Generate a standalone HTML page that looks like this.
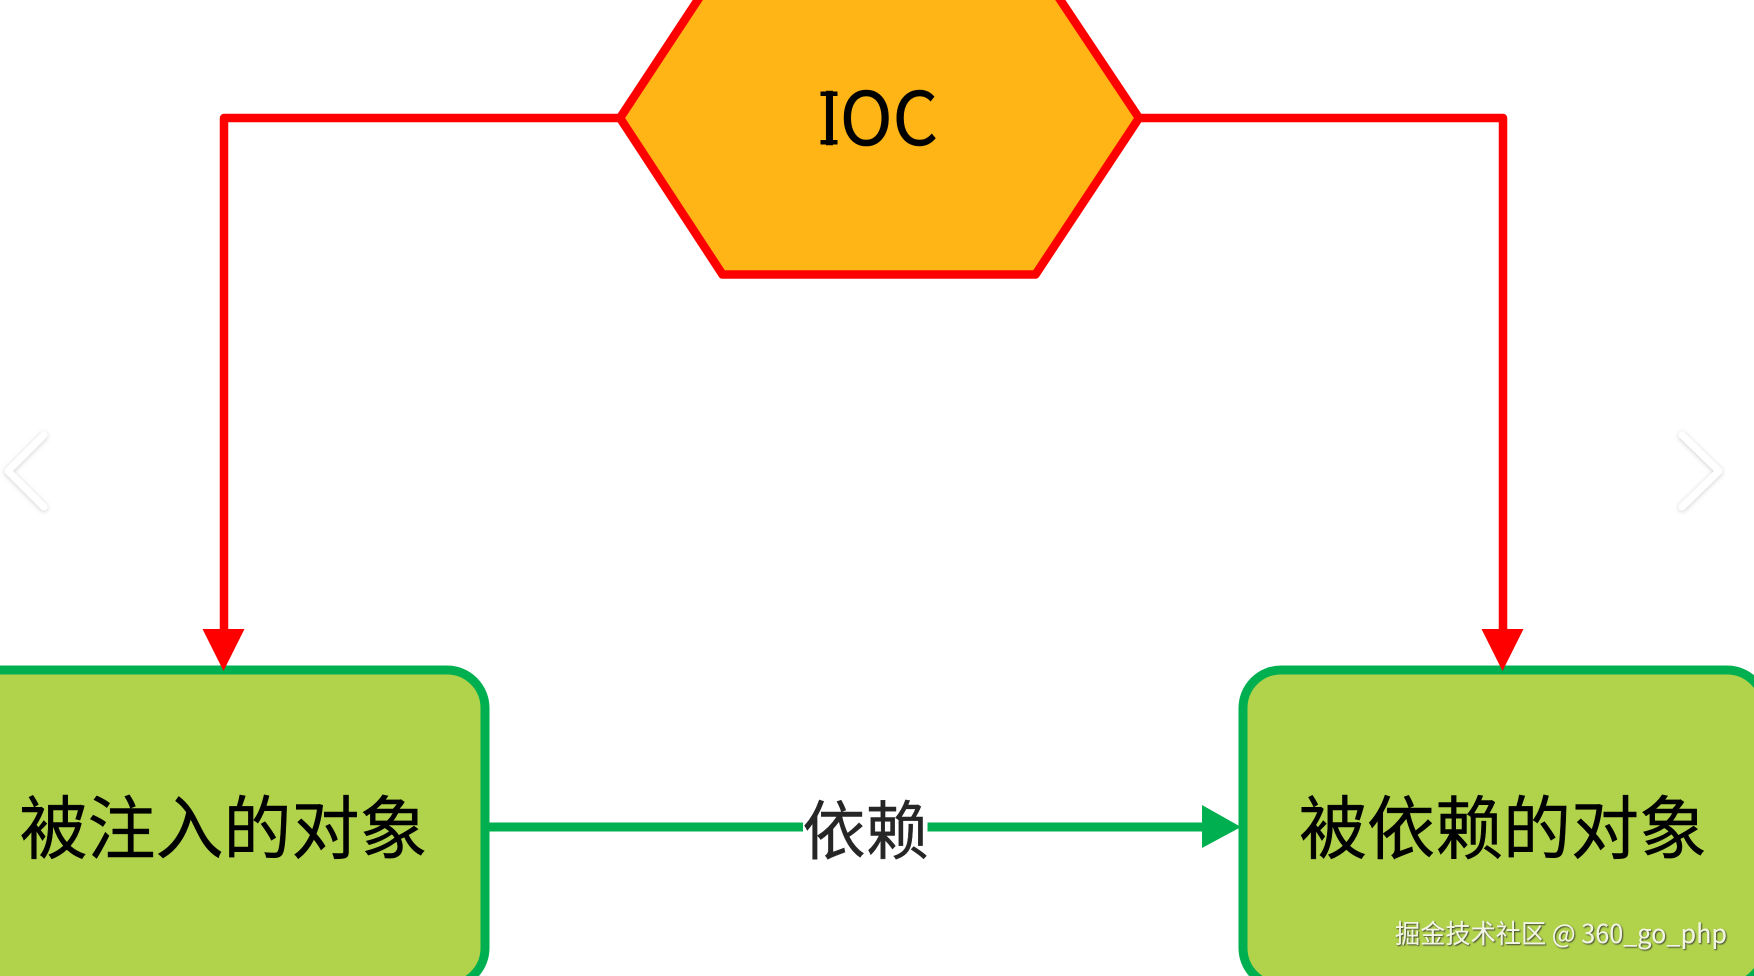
<!DOCTYPE html>
<html lang="zh">
<head>
<meta charset="utf-8">
<title>IOC</title>
<style>
html,body{margin:0;padding:0;background:#fff;width:1754px;height:976px;overflow:hidden}
svg{display:block}
text{font-family:"Liberation Sans","Noto Sans CJK SC",sans-serif}
</style>
</head>
<body>
<svg width="1754" height="976" viewBox="0 0 1754 976" xmlns="http://www.w3.org/2000/svg">
<defs>
<filter id="s" x="-50%" y="-50%" width="200%" height="200%"><feDropShadow dx="0" dy="1" stdDeviation="2.500" flood-color="#000" flood-opacity=".2"/></filter>
<filter id="t" x="-5%" y="-20%" width="110%" height="140%"><feDropShadow dx="1" dy="1" stdDeviation=".7" flood-color="#333" flood-opacity=".9"/></filter>
</defs>
<rect width="1754" height="976" fill="#fff"/>

<!-- red connectors -->
<path d="M620 118H224V632M1138.500 118H1503V632" fill="none" stroke="#f00" stroke-width="8.500" stroke-linejoin="round"/>

<!-- hexagon -->
<polygon points="620,118 722.500,274.500 1035.500,274.500 1139,118 1051,-14 707,-14" fill="#FFB515" stroke="#f00" stroke-width="8.500" stroke-linejoin="round"/>
<text x="878.500" y="145" font-size="74" text-anchor="middle" textLength="119" lengthAdjust="spacingAndGlyphs" fill="#000" stroke="#000" stroke-width=".5" style='font-family:"Noto Sans CJK SC",sans-serif'>IOC</text>
<rect x="820.500" y="91.500" width="17" height="4.500" fill="#000"/>
<rect x="820.500" y="140" width="17" height="4.500" fill="#000"/>

<!-- boxes -->
<rect x="-60" y="670" width="545" height="316" rx="38" fill="#B1D34B" stroke="#00B050" stroke-width="9"/>
<rect x="1243" y="670" width="522" height="316" rx="38" fill="#B1D34B" stroke="#00B050" stroke-width="9"/>

<!-- red arrowheads -->
<polygon points="202.500,629 244.500,629 223.500,671" fill="#f00"/>
<polygon points="1481.500,629 1523.500,629 1502.500,671" fill="#f00"/>

<!-- green connector -->
<path d="M488 827H803M927.500 827H1205" fill="none" stroke="#00B050" stroke-width="9"/>
<polygon points="1202,805 1202,848 1241,827" fill="#00B050"/>

<!-- labels -->
<text x="223.500" y="853" font-size="69" text-anchor="middle" textLength="408" lengthAdjust="spacingAndGlyphs" fill="#000" stroke="#000" stroke-width=".5" style='font-family:"Noto Sans CJK SC",sans-serif'>被注入的对象</text>
<text x="1503" y="853" font-size="69" text-anchor="middle" textLength="408" lengthAdjust="spacingAndGlyphs" fill="#000" stroke="#000" stroke-width=".5" style='font-family:"Noto Sans CJK SC",sans-serif'>被依赖的对象</text>
<text x="865.500" y="854" font-size="64" text-anchor="middle" textLength="126" lengthAdjust="spacingAndGlyphs" fill="#262626" stroke="#262626" stroke-width=".4" style='font-family:"Noto Sans CJK SC",sans-serif'>依赖</text>
<text x="1395" y="943" font-size="26" textLength="332" lengthAdjust="spacingAndGlyphs" fill="#f2f4e4" filter="url(#t)" style='font-family:"Noto Sans CJK SC",sans-serif'>掘金技术社区 @ 360_go_php</text>

<!-- carousel chevrons -->
<polyline points="44,435 8,471 44,507" fill="none" stroke="#fff" stroke-width="7" stroke-linecap="round" stroke-linejoin="round" filter="url(#s)"/>
<polyline points="1682,435 1719,471 1682,507" fill="none" stroke="#fff" stroke-width="7" stroke-linecap="round" stroke-linejoin="round" filter="url(#s)"/>
</svg>
</body>
</html>
